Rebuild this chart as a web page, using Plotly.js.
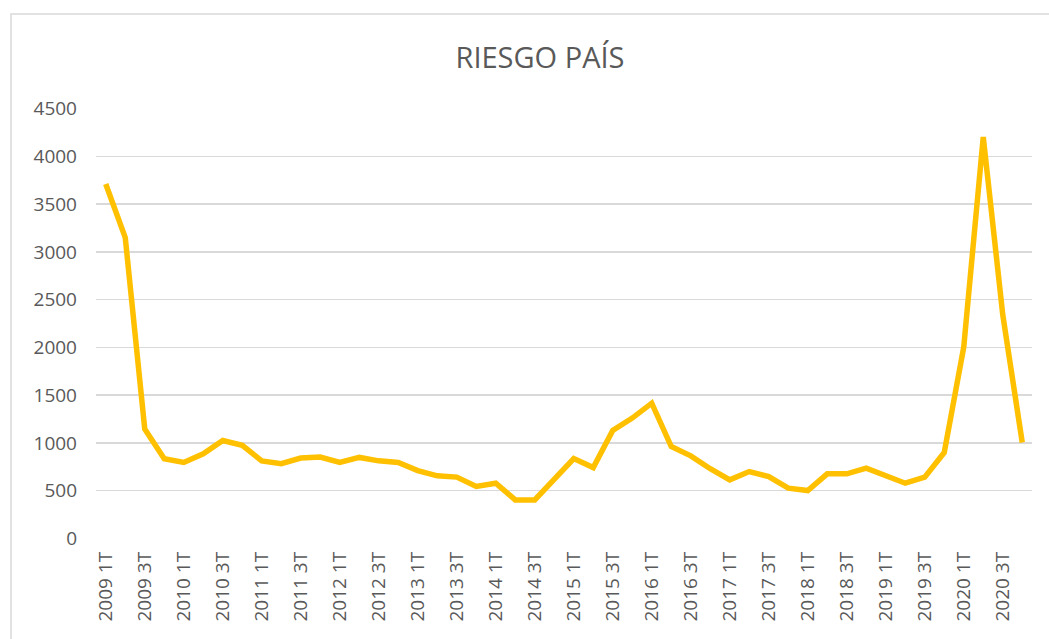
<!DOCTYPE html>
<html>
<head>
<meta charset="utf-8">
<script src="https://cdn.plot.ly/plotly-3.0.1.min.js"></script>
<style>
  html, body { margin: 0; padding: 0; background: #ffffff; }
  #chart { width: 1049px; height: 639px; }
</style>
</head>
<body>
<div id="chart"></div>
<script>
// Quarterly categories (2009 1T ... 2020 4T)
const categories = [
  "2009 1T","2009 2T","2009 3T","2009 4T",
  "2010 1T","2010 2T","2010 3T","2010 4T",
  "2011 1T","2011 2T","2011 3T","2011 4T",
  "2012 1T","2012 2T","2012 3T","2012 4T",
  "2013 1T","2013 2T","2013 3T","2013 4T",
  "2014 1T","2014 2T","2014 3T","2014 4T",
  "2015 1T","2015 2T","2015 3T","2015 4T",
  "2016 1T","2016 2T","2016 3T","2016 4T",
  "2017 1T","2017 2T","2017 3T","2017 4T",
  "2018 1T","2018 2T","2018 3T","2018 4T",
  "2019 1T","2019 2T","2019 3T","2019 4T",
  "2020 1T","2020 2T","2020 3T","2020 4T"
];

// Riesgo país values
const riesgoPais = [
  3710, 3150, 1145, 835,
  795, 885, 1025, 975,
  812, 782, 842, 852,
  796, 848, 812, 795,
  710, 655, 642, 545,
  578, 403, 403, 620,
  836, 742, 1130, 1260,
  1416, 962, 864, 730,
  613, 700, 648, 526,
  501, 676, 676, 735,
  655, 578, 641, 899,
  2003, 4203, 2342, 1004
];

const yTicks = [0, 500, 1000, 1500, 2000, 2500, 3000, 3500, 4000, 4500];
const xTickLabels = categories.filter((c, i) => i % 2 === 0);

const W = 1049, H = 639;
const M = { l: 96, r: 17, t: 108, b: 100 };
const pw = W - M.l - M.r, ph = H - M.t - M.b;
// frame position in px -> paper coords
const fx0 = (11 - M.l) / pw, fx1 = (1060 - M.l) / pw;
const fy1 = (H - M.b - 14) / ph, fy0 = (H - M.b - 650) / ph;

const trace = {
  type: "scatter",
  mode: "lines",
  x: categories,
  y: riesgoPais,
  line: { color: "#FFC000", width: 5.5, shape: "linear" },
  hoverinfo: "x+y"
};

const layout = {
  width: W,
  height: H,
  margin: M,
  paper_bgcolor: "#ffffff",
  plot_bgcolor: "#ffffff",
  showlegend: false,
  font: { family: "Open Sans, Liberation Sans, sans-serif", color: "#595959", size: 19 },
  title: {
    text: "RIESGO PAÍS",
    font: { family: "Open Sans, Liberation Sans, sans-serif", size: 29, color: "#595959" },
    x: 540 / W, xanchor: "center", xref: "container",
    y: 1 - 57.5 / H, yanchor: "middle", yref: "container"
  },
  xaxis: {
    type: "category",
    tickmode: "array",
    tickvals: xTickLabels,
    ticktext: xTickLabels,
    tickangle: -90,
    showgrid: false,
    zeroline: false,
    showline: false,
    ticks: "",
    ticklabelstandoff: 8,
    tickfont: { size: 19, color: "#595959" },
    range: [-0.5, categories.length - 0.5],
    fixedrange: true
  },
  yaxis: {
    range: [-6, 4506],
    tickmode: "array",
    tickvals: yTicks,
    ticktext: yTicks.map(String),
    showgrid: true,
    gridcolor: "#d9d9d9",
    gridwidth: 1.5,
    zeroline: false,
    showline: false,
    ticks: "",
    ticklabelstandoff: 18,
    tickfont: { size: 19, color: "#595959" },
    fixedrange: true
  },
  shapes: [{
    type: "rect", xref: "paper", yref: "paper",
    x0: fx0, x1: fx1, y0: fy0, y1: fy1,
    line: { color: "#d9d9d9", width: 1.5 },
    fillcolor: "rgba(0,0,0,0)",
    layer: "below"
  }]
};

Plotly.newPlot("chart", [trace], layout, { displayModeBar: false, staticPlot: true });
</script>
</body>
</html>
